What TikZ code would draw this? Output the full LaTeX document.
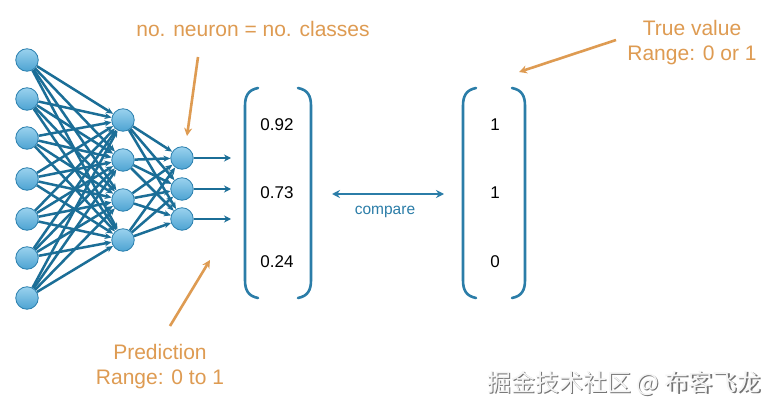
\documentclass[tikz,border=0pt]{standalone}
\usepackage{fontspec}
\setmainfont{Liberation Sans}
\newfontfamily\cjk{Noto Sans CJK SC}
\usetikzlibrary{arrows.meta,backgrounds}
\definecolor{nborder}{HTML}{2A7FAE}
\definecolor{ntop}{HTML}{9AD2EE}
\definecolor{nbot}{HTML}{4DA3D2}
\definecolor{edgec}{HTML}{1B6E97}
\definecolor{brc}{HTML}{2B7DA8}
\definecolor{orng}{HTML}{DE9B52}
\tikzset{
  neuron/.style={circle, minimum size=22.5pt, inner sep=0pt, draw=nborder, line width=0.8pt, top color=ntop, bottom color=nbot},
  wire/.style={draw=edgec, line width=2.5pt, -{Stealth[length=7pt,width=6pt]}},
  outarrow/.style={draw=edgec, line width=2.2pt, -{Stealth[length=7pt,width=7pt]}},
  bracket/.style={draw=brc, line width=2.6pt, line cap=round},
  valtext/.style={font=\fontsize{17}{19}\selectfont, text=black, inner sep=0pt},
  note/.style={font=\fontsize{21}{25}\selectfont, text=orng, align=center, inner sep=0pt},
  notearrow/.style={draw=orng, line width=2.6pt, -{Stealth[length=8pt,width=8pt]}},
  cmparrow/.style={draw=brc, line width=2.2pt, {Stealth[length=8pt,width=8pt]}-{Stealth[length=8pt,width=8pt]}},
}
\begin{document}
\begin{tikzpicture}[x=1pt,y=-1pt]
\useasboundingbox (0,0) rectangle (782,409);
% input layer
\foreach \i/\y in {1/60,2/99,3/138,4/179,5/219,6/258,7/298}
  \node[neuron] (i\i) at (27,\y) {};
% hidden layer
\foreach \j/\y in {1/120,2/160,3/200,4/240}
  \node[neuron] (h\j) at (123,\y) {};
% output layer
\foreach \k/\y in {1/158,2/189,3/219}
  \node[neuron] (o\k) at (182,\y) {};
\begin{scope}[on background layer]
\fill[white] (0,0) rectangle (782,409);
\foreach \i in {1,...,7}
  \foreach \j in {1,...,4}
    \draw[wire] (i\i) -- (h\j);
\foreach \j in {1,...,4}
  \foreach \k in {1,...,3}
    \draw[wire] (h\j) -- (o\k);
\end{scope}
% output arrows
\foreach \k/\y in {1/158,2/189,3/219}{
  \coordinate (e\k) at (231,\y);
  \draw[outarrow] (o\k) -- (e\k);
}
% prediction bracket
\draw[bracket] (258,88) .. controls (248,90) and (245,96) .. (245,106) -- (245,280) .. controls (245,290) and (248,296) .. (258,298);
\draw[bracket] (298,88) .. controls (308,90) and (311,96) .. (311,106) -- (311,280) .. controls (311,290) and (308,296) .. (298,298);
\node[valtext] (p1) at (277,125) {0.92};
\node[valtext] (p2) at (277,193) {0.73};
\node[valtext] (p3) at (277,262) {0.24};
% true value bracket
\draw[bracket] (476,88) .. controls (466,90) and (463,96) .. (463,106) -- (463,280) .. controls (463,290) and (466,296) .. (476,298);
\draw[bracket] (512,88) .. controls (522,90) and (525,96) .. (525,106) -- (525,280) .. controls (525,290) and (522,296) .. (512,298);
\node[valtext] (t1) at (495,125) {1};
\node[valtext] (t2) at (495,193) {1};
\node[valtext] (t3) at (495,262) {0};
% compare
\coordinate (cl) at (332,194);
\coordinate (cr) at (444,194);
\draw[cmparrow] (cl) -- (cr);
\node[font=\fontsize{15.5}{17}\selectfont, text=brc, inner sep=0pt] (cmp) at (385,212) {compare};
% notes
\node[note] (n1) at (253,29) {no. neuron = no. classes};
\coordinate (n1s) at (198,57);
\coordinate (n1e) at (187,136);
\draw[notearrow] (n1s) -- (n1e);
\node[note] (n2) at (692,43) {True value\\Range: 0 or 1};
\coordinate (n2s) at (616,40);
\coordinate (n2e) at (519,72);
\draw[notearrow] (n2s) -- (n2e);
\node[note] (n3) at (160,367) {Prediction\\Range: 0 to 1};
\coordinate (n3s) at (170,326);
\coordinate (n3e) at (210,260);
\draw[notearrow] (n3s) -- (n3e);
% watermark
\node[font=\cjk\fontsize{24}{26}\selectfont, text=black!55, inner sep=0pt] (wm0) at (625.3,384.3) {掘金技术社区 @ 布客飞龙};
\node[font=\cjk\fontsize{24}{26}\selectfont, text=white!96!black, inner sep=0pt] (wm) at (624,383) {掘金技术社区 @ 布客飞龙};
\end{tikzpicture}
\end{document}
